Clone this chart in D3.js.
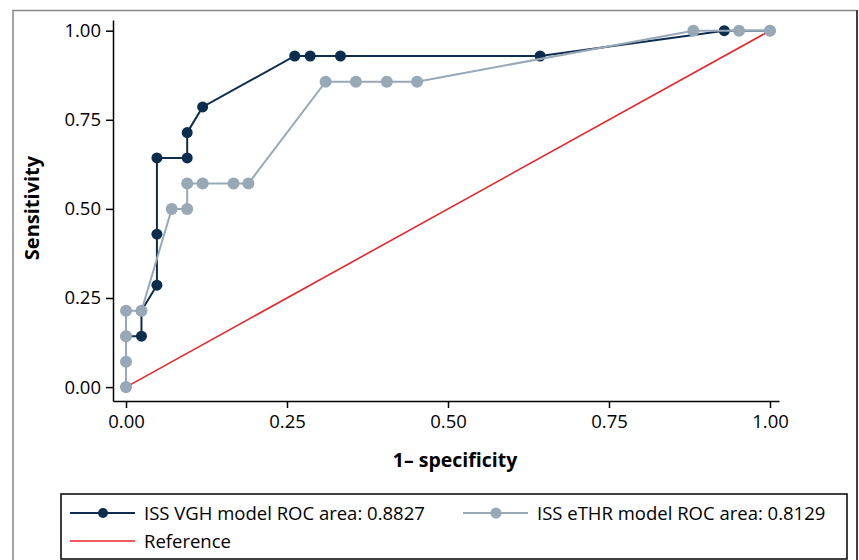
<!DOCTYPE html>
<html lang="en">
<head>
<meta charset="UTF-8">
<title>ROC curves</title>
<script src="https://d3js.org/d3.v7.min.js"></script>
<style>
  body { margin: 0; background: #fff; }
  text { font-family: "Open Sans", "Noto Sans", sans-serif; }
</style>
</head>
<body>
<svg width="859" height="560"></svg>
<script>
// ROC points (1 - specificity, sensitivity)
const vghX = [0, 0, 0.024, 0.024, 0.048, 0.048, 0.048, 0.095, 0.095, 0.119, 0.262, 0.286, 0.333, 0.643, 0.929, 1];
const vghY = [0, 0.143, 0.143, 0.214, 0.286, 0.429, 0.643, 0.643, 0.714, 0.786, 0.929, 0.929, 0.929, 0.929, 1, 1];

const ethrX = [0, 0, 0, 0, 0.024, 0.071, 0.095, 0.095, 0.119, 0.167, 0.190, 0.310, 0.357, 0.405, 0.452, 0.881, 0.952, 1];
const ethrY = [0, 0.071, 0.143, 0.214, 0.214, 0.5, 0.5, 0.571, 0.571, 0.571, 0.571, 0.857, 0.857, 0.857, 0.857, 1, 1, 1];

const refX = [0, 1];
const refY = [0, 1];

const tickVals = [0, 0.25, 0.5, 0.75, 1];
const legendLabels = ["ISS VGH model ROC area: 0.8827", "ISS eTHR model ROC area: 0.8129", "Reference"];

const navy = "#0d2d4f", grey = "#97a8b7", red = "#e8262b";

const svg = d3.select("svg");

// outer frame
svg.append("path").attr("d", "M13,560 V10.5 H856").attr("fill", "none").attr("stroke", "#888").attr("stroke-width", 1.5);
svg.append("line").attr("x1", 857).attr("x2", 857).attr("y1", 10).attr("y2", 560).attr("stroke", "#000").attr("stroke-width", 1.5);

const x = d3.scaleLinear().domain([-0.0202, 1.014]).range([113, 779]);
const y = d3.scaleLinear().domain([-0.039, 1.03]).range([401, 20]);

const fmt = d3.format(".2f");

const xAxis = svg.append("g")
    .attr("transform", "translate(0,401)")
    .call(d3.axisBottom(x).tickValues(tickVals).tickFormat(fmt).tickSize(7).tickSizeOuter(0).tickPadding(7));
const yAxis = svg.append("g")
    .attr("transform", "translate(113,0)")
    .call(d3.axisLeft(y).tickValues(tickVals).tickFormat(fmt).tickSize(7).tickSizeOuter(0).tickPadding(5));
[xAxis, yAxis].forEach(g => {
    g.selectAll("path, line").attr("stroke", "#000").attr("stroke-width", 1.5);
    g.selectAll("text").attr("font-size", 18.5).attr("fill", "#000");
});

svg.append("text").attr("x", 455).attr("y", 467).attr("text-anchor", "middle")
    .attr("font-size", 19.5).attr("font-weight", "bold").text("1\u2013 specificity");
svg.append("text").attr("transform", "translate(39,208) rotate(-90)").attr("text-anchor", "middle")
    .attr("font-size", 20).attr("font-weight", "bold").text("Sensitivity");

const line = d3.line().x(d => x(d[0])).y(d => y(d[1]));
const zip = (a, b) => a.map((v, i) => [v, b[i]]);

// reference diagonal
svg.append("path").datum(zip(refX, refY)).attr("d", line)
    .attr("fill", "none").attr("stroke", red).attr("stroke-width", 1.6);

// VGH model
const vgh = zip(vghX, vghY);
svg.append("path").datum(vgh).attr("d", line)
    .attr("fill", "none").attr("stroke", navy).attr("stroke-width", 2);
svg.selectAll(".pv").data(vgh).join("circle")
    .attr("cx", d => x(d[0])).attr("cy", d => y(d[1])).attr("r", 5.5).attr("fill", navy);

// eTHR model
const ethr = zip(ethrX, ethrY);
svg.append("path").datum(ethr).attr("d", line)
    .attr("fill", "none").attr("stroke", grey).attr("stroke-width", 2);
svg.selectAll(".pe").data(ethr).join("circle")
    .attr("cx", d => x(d[0])).attr("cy", d => y(d[1])).attr("r", 6).attr("fill", grey);

// legend
const lg = svg.append("g");
lg.append("rect").attr("x", 61).attr("y", 494).attr("width", 786).attr("height", 65)
    .attr("fill", "#fff").attr("stroke", "#000").attr("stroke-width", 1.5);

const items = [
    { lx: 70, ty: 513, color: navy, dot: true, r: 5, label: legendLabels[0] },
    { lx: 463, ty: 513, color: grey, dot: true, r: 5.5, label: legendLabels[1] },
    { lx: 70, ty: 541, color: red, dot: false, label: legendLabels[2] }
];
items.forEach(it => {
    lg.append("line").attr("x1", it.lx).attr("x2", it.lx + 65).attr("y1", it.ty).attr("y2", it.ty)
        .attr("stroke", it.color).attr("stroke-width", it.dot ? 2 : 1.6);
    if (it.dot) lg.append("circle").attr("cx", it.lx + 33).attr("cy", it.ty).attr("r", it.r).attr("fill", it.color);
    lg.append("text").attr("x", it.lx + 74).attr("y", it.ty).attr("dy", "0.36em")
        .attr("font-size", 18.5).text(it.label);
});
</script>
</body>
</html>
